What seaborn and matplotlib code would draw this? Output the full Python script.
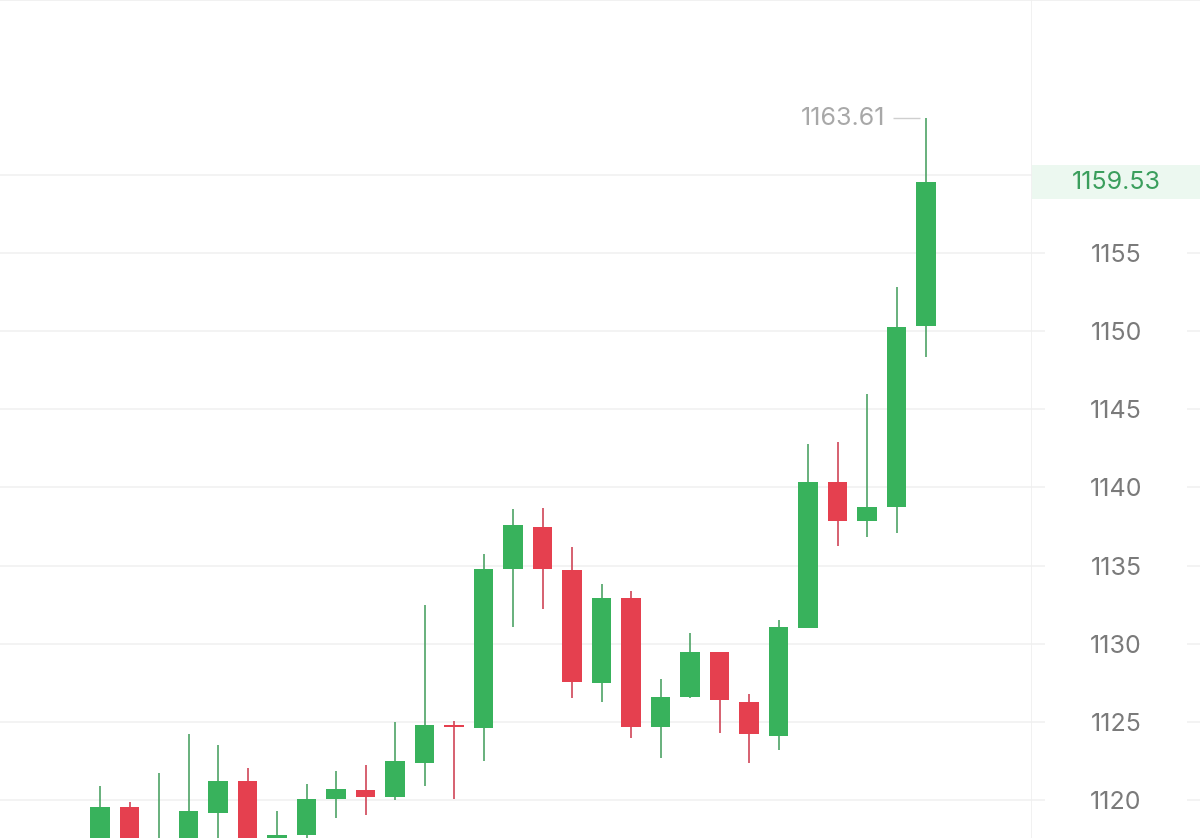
import matplotlib

matplotlib.use("Agg")

import matplotlib.pyplot as plt
import numpy as np
import seaborn as sns

# OHLC per candle (oldest first)
opens = [1117.5, 1119.56, 1116.6, 1117.0, 1119.2, 1121.2, 1117.4, 1117.76, 1120.07, 1120.64,
         1120.2, 1122.4, 1124.8, 1124.6, 1134.78, 1137.5, 1134.7, 1127.5, 1132.9, 1124.7,
         1126.6, 1129.5, 1126.3, 1124.1, 1131.0, 1140.35, 1137.85, 1138.75, 1150.3]
highs = [1120.9, 1119.87, 1121.73, 1124.2, 1123.5, 1122.05, 1119.3, 1121.0, 1121.86, 1122.24,
         1125.0, 1132.5, 1125.05, 1135.74, 1138.6, 1138.7, 1136.2, 1133.8, 1133.4, 1127.75,
         1130.7, 1129.5, 1126.8, 1131.5, 1142.8, 1142.9, 1146.0, 1152.8, 1163.61]
lows = [1117.0, 1116.8, 1116.2, 1116.6, 1117.0, 1116.8, 1117.0, 1117.3, 1118.85, 1119.04,
        1120.0, 1120.9, 1120.07, 1122.5, 1131.1, 1132.2, 1126.5, 1126.3, 1124.0, 1122.7,
        1126.5, 1124.3, 1122.4, 1123.2, 1131.0, 1136.25, 1136.8, 1137.1, 1148.35]
closes = [1119.56, 1117.2, 1117.3, 1119.3, 1121.2, 1117.3, 1117.76, 1120.07, 1120.7, 1120.2,
          1122.5, 1124.8, 1124.7, 1134.78, 1137.6, 1134.78, 1127.55, 1132.9, 1124.7, 1126.6,
          1129.5, 1126.4, 1124.2, 1131.1, 1140.35, 1137.85, 1138.75, 1150.27, 1159.53]

price_ticks = [1120, 1125, 1130, 1135, 1140, 1145, 1150, 1155]
grid_levels = price_ticks + [1160]
last_price = 1159.53
high_label = 1163.61

UP = "#38b25c"
DOWN = "#e5404f"
UP_WICK = "#4ea366"
DOWN_WICK = "#cf4558"
GRID = "#f1f1f1"

sns.set_theme(style="white")
plt.rcParams["font.family"] = ["Inter", "DejaVu Sans"]

fig = plt.figure(figsize=(12, 8.38), dpi=100)
ax = fig.add_axes([0, 0, 1032 / 1200, 1])
side = fig.add_axes([1032 / 1200, 0, 1 - 1032 / 1200, 1])

o = np.array(opens)
c = np.array(closes)
h = np.array(highs)
lo = np.array(lows)
x = np.arange(len(o))
rising = c >= o
colors = np.where(rising, UP, DOWN)
wick_colors = np.where(rising, UP_WICK, DOWN_WICK)

ax.vlines(x, lo, h, colors=wick_colors, linewidth=1.2, zorder=3)
body = np.maximum(np.abs(c - o), 0.12)
ax.bar(x, body, bottom=np.minimum(o, c), width=0.66, color=colors, linewidth=0, zorder=4)

ylim = (1117.57, 1171.19)
ax.set_xlim(-3.39, 31.59)
ax.set_ylim(*ylim)
ax.set_yticks(grid_levels)
ax.set_xticks([])
ax.tick_params(left=False, labelleft=False)
ax.grid(axis="y", color=GRID, linewidth=1.2)
for name, sp in ax.spines.items():
    sp.set_visible(name in ("top", "right"))
    sp.set_color("#efefef")
    sp.set_linewidth(1.2)

# max high marker
i_max = int(np.argmax(h))
ax.hlines(h[i_max], i_max - 1.12, i_max - 0.2, color="#cfcfcf", linewidth=1.0, zorder=3)
ax.text(i_max - 1.39, h[i_max], f"{high_label:.2f}", ha="right", va="center",
        fontsize=18, color="#a8a8a8")

# right price scale
side.set_xlim(0, 1)
side.set_ylim(*ylim)
side.set_xticks([])
side.set_yticks(price_ticks)
side.set_yticklabels([str(t) for t in price_ticks])
side.tick_params(axis="y", which="both", left=True, right=True, direction="in",
                 length=9.4, width=1.2, color=GRID, labelsize=18, labelcolor="#7a7a7a",
                 pad=-60.5)
for lab in side.get_yticklabels():
    lab.set_horizontalalignment("center")
for name, sp in side.spines.items():
    sp.set_visible(name == "top")
    sp.set_color("#efefef")
    sp.set_linewidth(1.2)

side.axhspan(last_price - 1.09, last_price + 1.09, color="#ecf8f0", linewidth=0, zorder=0)
side.text(0.5, last_price, f"{last_price:.2f}", ha="center", va="center",
          fontsize=18, color="#3a9e5c")

fig.savefig("out.png", dpi=100)
